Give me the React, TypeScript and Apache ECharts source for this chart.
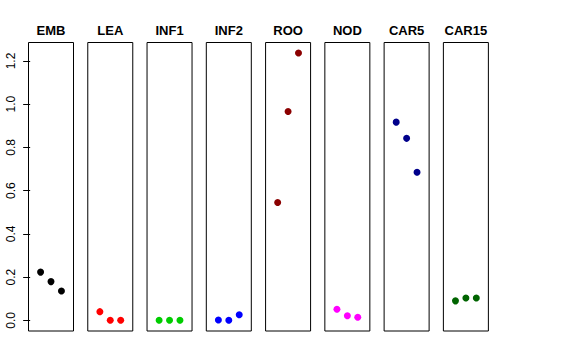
import React, { useEffect, useRef } from "react";
import * as echarts from "echarts";

const panels = ["EMB", "LEA", "INF1", "INF2", "ROO", "NOD", "CAR5", "CAR15"];
const colors = ["#000000", "#FF0000", "#00CD00", "#0000FF", "#8B0000", "#FF00FF", "#00008B", "#006400"];
const values: number[][] = [
  [0.223, 0.179, 0.136],
  [0.040, 0.0, 0.0],
  [0.0, 0.0, 0.0],
  [0.001, 0.0, 0.026],
  [0.545, 0.966, 1.237],
  [0.051, 0.021, 0.014],
  [0.917, 0.842, 0.685],
  [0.090, 0.103, 0.103],
];
const yTicks = [0, 0.2, 0.4, 0.6, 0.8, 1.0, 1.2];

export default function App() {
  const ref = useRef<HTMLDivElement>(null);
  useEffect(() => {
    if (!ref.current) return;
    const chart = echarts.init(ref.current, undefined, { renderer: "svg" });
    const left0 = 28.5;
    const step = 59.27;
    const w = 45;
    const top = 42.5;
    const h = 288.5;
    const grids = panels.map((_, i) => ({
      left: left0 + step * i,
      top,
      width: w,
      height: h,
      show: true,
      borderColor: "#000",
      borderWidth: 1,
      backgroundColor: "transparent",
    }));
    const xAxes = panels.map((_, i) => ({
      type: "value",
      gridIndex: i,
      min: -0.16,
      max: 4.16,
      show: false,
    }));
    const yAxes = panels.map((_, i) => ({
      type: "value",
      gridIndex: i,
      min: -0.0495,
      max: 1.2855,
      show: i === 0,
      axisLine: { show: false },
      splitLine: { show: false },
      axisTick: {
        show: i === 0,
        length: 7,
        customValues: yTicks,
        lineStyle: { color: "#000", width: 1 },
      },
      axisLabel: {
        show: i === 0,
        customValues: yTicks,
        rotate: 90,
        margin: 12,
        fontFamily: "Liberation Sans",
        fontSize: 12,
        color: "#000",
        formatter: (v: number) => v.toFixed(1),
      },
    }));
    const series = panels.map((_, i) => ({
      type: "scatter",
      xAxisIndex: i,
      yAxisIndex: i,
      symbol: "circle",
      symbolSize: 7,
      itemStyle: { color: colors[i], opacity: 1 },
      data: values[i].map((v, j) => [j + 1, v]),
    }));
    const graphic = panels.map((name, i) => ({
      type: "text",
      x: left0 + step * i + w / 2,
      y: 30,
      style: {
        text: name,
        textAlign: "center",
        textVerticalAlign: "middle",
        font: "bold 13px 'Liberation Sans'",
        fill: "#000",
      },
    }));
    chart.setOption({
      animation: false,
      backgroundColor: "#fff",
      grid: grids,
      xAxis: xAxes,
      yAxis: yAxes,
      series,
      graphic,
    } as any);
    return () => chart.dispose();
  }, []);
  return <div ref={ref} style={{ position: "absolute", left: 0, top: 0, width: 576, height: 360 }} />;
}
